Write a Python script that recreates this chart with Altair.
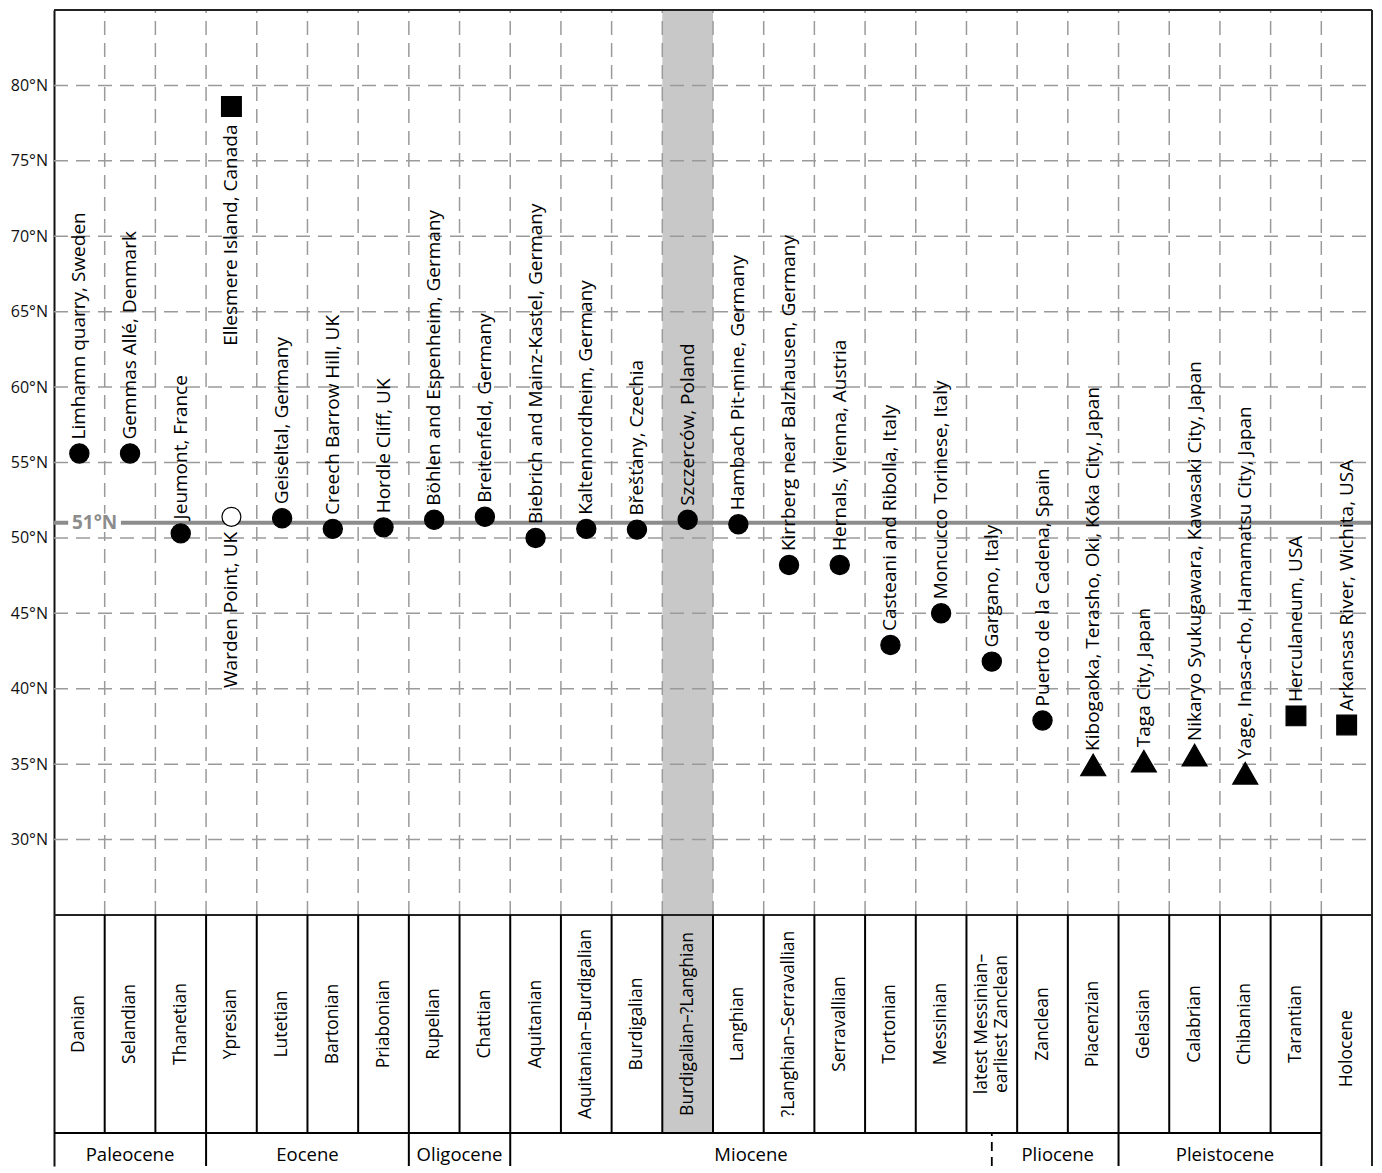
import altair as alt
import pandas as pd

# ---------------- data ----------------
stages = ["Danian", "Selandian", "Thanetian", "Ypresian", "Lutetian", "Bartonian",
          "Priabonian", "Rupelian", "Chattian", "Aquitanian", "Aquitanian–Burdigalian",
          "Burdigalian", "Burdigalian–?Langhian", "Langhian", "?Langhian–Serravallian",
          "Serravallian", "Tortonian", "Messinian", "latest Messinian–\nearliest Zanclean",
          "Zanclean", "Piacenzian", "Gelasian", "Calabrian", "Chibanian", "Tarantian", "Holocene"]

epochs = ["Paleocene", "Eocene", "Oligocene", "Miocene", "Pliocene", "Pleistocene"]
epoch_start = [0, 3, 7, 9, 18.5, 21]
epoch_end = [3, 7, 9, 18.5, 21, 25]
epoch_label_x = [1.5, 5, 8, 13.75, 19.8, 23.1]

site_names = ["Limhamn quarry, Sweden", "Gemmas Allé, Denmark", "Jeumont, France",
              "Warden Point, UK", "Ellesmere Island, Canada", "Geiseltal, Germany",
              "Creech Barrow Hill, UK", "Hordle Cliff, UK", "Böhlen and Espenheim, Germany",
              "Breitenfeld, Germany", "Biebrich and Mainz-Kastel, Germany",
              "Kaltennordheim, Germany", "Břešťany, Czechia", "Szczerców, Poland",
              "Hambach Pit-mine, Germany", "Kirrberg near Balzhausen, Germany",
              "Hernals, Vienna, Austria", "Casteani and Ribolla, Italy",
              "Moncucco Torinese, Italy", "Gargano, Italy", "Puerto de la Cadena, Spain",
              "Kibogaoka, Terasho, Oki, Kōka City, Japan", "Taga City, Japan",
              "Nikaryo Syukugawara, Kawasaki City, Japan",
              "Yage, Inasa-cho, Hamamatsu City, Japan", "Herculaneum, USA",
              "Arkansas River, Wichita, USA"]
site_stage = [0, 1, 2, 3, 3, 4, 5, 6, 7, 8, 9, 10, 11, 12, 13, 14, 15, 16, 17, 18, 19,
              20, 21, 22, 23, 24, 25]
site_lat = [55.6, 55.6, 50.3, 51.4, 78.6, 51.3, 50.6, 50.7, 51.2, 51.4, 50.0, 50.6,
            50.55, 51.2, 50.9, 48.2, 48.2, 42.9, 45.0, 41.8, 37.9, 34.95, 35.2, 35.6,
            34.4, 38.2, 37.6]
site_marker = ["circle", "circle", "circle", "open", "square", "circle", "circle",
               "circle", "circle", "circle", "circle", "circle", "circle", "circle",
               "circle", "circle", "circle", "circle", "circle", "circle", "circle",
               "triangle", "triangle", "triangle", "triangle", "square", "square"]
site_label_pos = ["above", "above", "above", "below1", "below2"] + ["above"] * 22

lat_ticks = [30, 35, 40, 45, 50, 55, 60, 65, 70, 75, 80]
highlight_stage = 12
ref_lat = 51

# ---------------- layout constants (in scale units) ----------------
N = len(stages)
LAT_TOP = 85
LAT_BOTTOM = 25
PX_PER_DEG = 905 / 60
STAGE_ROW = 218 / PX_PER_DEG
EPOCH_ROW = 33 / PX_PER_DEG
STAGE_BOT = LAT_BOTTOM - STAGE_ROW
Y_MIN = STAGE_BOT - EPOCH_ROW
PLOT_H = round((LAT_TOP - Y_MIN) * PX_PER_DEG)
PLOT_W = 1318

FONT = "Open Sans"
XS = alt.Scale(domain=[0, N], nice=False, zero=False)
YS = alt.Scale(domain=[Y_MIN, LAT_TOP], nice=False, zero=False)
YAXIS = alt.Axis(values=lat_ticks, labelExpr="datum.value + '°N'", ticks=False,
                 grid=False, domain=True, domainColor="#111111", domainWidth=2,
                 labelFont=FONT, labelFontSize=16, labelColor="#111111",
                 labelPadding=6.5, title=None)


def X(f):
    return alt.X(f"{f}:Q", scale=XS, axis=None)


def Y(f):
    return alt.Y(f"{f}:Q", scale=YS, axis=YAXIS)


def rules(df, **kw):
    return alt.Chart(df).mark_rule(**kw).encode(
        x=X("x"), x2=alt.X2("x2"), y=Y("y"), y2=alt.Y2("y2"))


# shaded column (plot + stage cell)
shade_df = pd.DataFrame({"x": [highlight_stage], "x2": [highlight_stage + 1],
                         "y": [STAGE_BOT], "y2": [LAT_TOP]})
shade = alt.Chart(shade_df).mark_rect(color="#c8c8c8").encode(
    x=X("x"), x2=alt.X2("x2"), y=Y("y"), y2=alt.Y2("y2"))

# dashed grid
vgrid_df = pd.DataFrame({"x": list(range(1, N)), "x2": list(range(1, N)),
                         "y": [LAT_BOTTOM] * (N - 1), "y2": [LAT_TOP] * (N - 1)})
hgrid_df = pd.DataFrame({"x": [0] * len(lat_ticks), "x2": [N] * len(lat_ticks),
                         "y": lat_ticks, "y2": lat_ticks})
grid_kw = dict(color="#9a9a9a", strokeWidth=1.5, strokeDash=[14, 8])
vgrid = rules(vgrid_df, **grid_kw)
hgrid = rules(hgrid_df, **grid_kw)

# 51°N reference line
ref_df = pd.DataFrame({"x": [0], "x2": [N], "y": [ref_lat], "y2": [ref_lat]})
ref_line = rules(ref_df, color="#8c8c8c", strokeWidth=4)
ref_bg_df = pd.DataFrame({"x": [0.28], "x2": [1.32], "y": [ref_lat - 0.6], "y2": [ref_lat + 0.6]})
ref_bg = alt.Chart(ref_bg_df).mark_rect(color="white").encode(
    x=X("x"), x2=alt.X2("x2"), y=Y("y"), y2=alt.Y2("y2"))
ref_txt_df = pd.DataFrame({"x": [0.8], "y": [ref_lat], "t": [f"{ref_lat}°N"]})
ref_txt = alt.Chart(ref_txt_df).mark_text(
    font=FONT, fontSize=19, fontWeight="bold", color="#8c8c8c",
    align="center", baseline="middle").encode(x=X("x"), y=Y("y"), text="t:N")

# frame and table lines
frame_df = pd.DataFrame({
    "x": [0, N, 0],
    "x2": [N, N, N],
    "y": [LAT_TOP, Y_MIN, LAT_BOTTOM],
    "y2": [LAT_TOP, LAT_TOP, LAT_BOTTOM]})
stage_lines_df = pd.DataFrame({
    "x": list(range(1, N)) + [0],
    "x2": list(range(1, N)) + [N - 1],
    "y": [STAGE_BOT] * (N - 1) + [STAGE_BOT],
    "y2": [LAT_BOTTOM] * (N - 1) + [STAGE_BOT]})
epoch_solid = [3, 7, 9, 21, N - 1]
epoch_lines_df = pd.DataFrame({"x": epoch_solid, "x2": epoch_solid,
                               "y": [Y_MIN] * len(epoch_solid),
                               "y2": [STAGE_BOT] * len(epoch_solid)})
epoch_dash_df = pd.DataFrame({"x": [18.5], "x2": [18.5], "y": [Y_MIN], "y2": [STAGE_BOT]})
frame = rules(frame_df, color="#222222", strokeWidth=2)
stage_lines = rules(stage_lines_df, color="#000000", strokeWidth=2)
epoch_lines = rules(epoch_lines_df, color="#000000", strokeWidth=2)
epoch_dash = rules(epoch_dash_df, color="#000000", strokeWidth=1.8, strokeDash=[9, 6])

# stage labels
stage_df = pd.DataFrame({
    "x": [i + 0.5 for i in range(N)],
    "y": [(LAT_BOTTOM + STAGE_BOT) / 2] * (N - 1) + [(LAT_BOTTOM + Y_MIN) / 2 - 0.55],
    "t": stages})
stage_df["multi"] = stage_df["t"].str.contains("\n")
st_kw = dict(font=FONT, fontSize=17.5, color="#000000", angle=270, align="center",
             baseline="middle", lineBreak="\n", lineHeight=20)
stage_txt = alt.Chart(stage_df).transform_filter("!datum.multi").mark_text(**st_kw).encode(
    x=X("x"), y=Y("y"), text="t:N")
stage_txt2 = alt.Chart(stage_df).transform_filter("datum.multi").mark_text(
    dy=-10, **st_kw).encode(x=X("x"), y=Y("y"), text="t:N")

# epoch labels
epoch_df = pd.DataFrame({
    "x": epoch_label_x,
    "y": [STAGE_BOT - 22 / PX_PER_DEG] * len(epochs),
    "t": epochs})
epoch_txt = alt.Chart(epoch_df).mark_text(
    font=FONT, fontSize=18.5, color="#000000", align="center", baseline="middle").encode(
    x=X("x"), y=Y("y"), text="t:N")

# sites
sites = pd.DataFrame({"x": [s + 0.5 for s in site_stage], "y": site_lat,
                      "name": site_names, "marker": site_marker, "pos": site_label_pos})


def pts(marker, shape, size, fill):
    return alt.Chart(sites).transform_filter(f"datum.marker == '{marker}'").mark_point(
        shape=shape, size=size, fill=fill, stroke="#000000", strokeWidth=1.2,
        opacity=1, filled=False).encode(x=X("x"), y=Y("y"))


p_circle = pts("circle", "circle", 370, "#000000")
p_open = pts("open", "circle", 360, "#ffffff")
p_square = pts("square", "square", 390, "#000000")
p_tri = pts("triangle", "triangle-up", 625, "#000000")

lab_kw = dict(font=FONT, fontSize=19, color="#000000", angle=270, baseline="middle")
lab_above = alt.Chart(sites).transform_filter("datum.pos == 'above'").mark_text(
    align="left", dx=14, **lab_kw).encode(x=X("x"), y=Y("y"), text="name:N")
lab_below1 = alt.Chart(sites).transform_filter("datum.pos == 'below1'").mark_text(
    align="right", dx=-15, **lab_kw).encode(x=X("x"), y=Y("y"), text="name:N")
lab_below2 = alt.Chart(sites).transform_filter("datum.pos == 'below2'").mark_text(
    align="right", dx=-18, **lab_kw).encode(x=X("x"), y=Y("y"), text="name:N")

chart = alt.layer(
    shade, hgrid, vgrid, ref_line, ref_bg, ref_txt,
    frame, stage_lines, epoch_lines, epoch_dash,
    stage_txt, stage_txt2, epoch_txt, p_circle, p_open, p_square, p_tri,
    lab_above, lab_below1, lab_below2
).properties(
    width=PLOT_W, height=PLOT_H,
    padding={"left": 2, "top": 1, "right": 0, "bottom": 0}
).configure_view(stroke=None)

chart.save("out.html", embed_options={"renderer": "svg", "actions": False})
